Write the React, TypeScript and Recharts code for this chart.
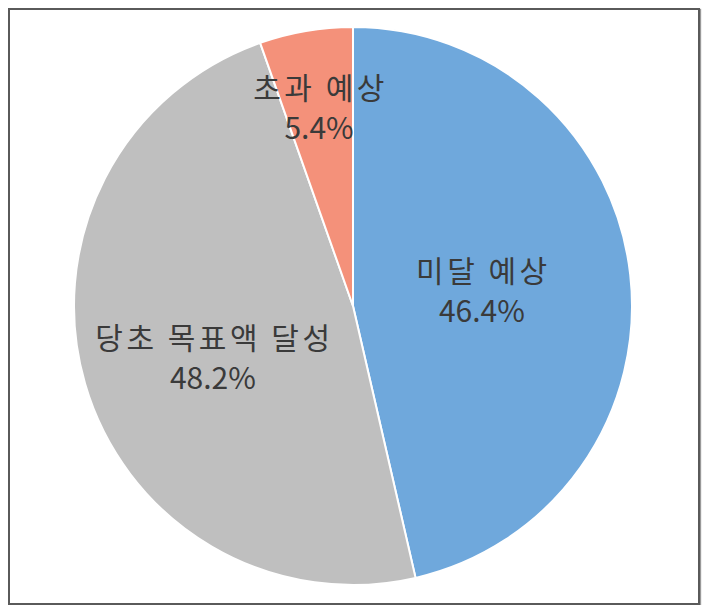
import { Cell, Pie, PieChart } from "recharts";

const categories = ["미달 예상", "당초 목표액 달성", "초과 예상"];
const shares = [46.4, 48.2, 5.4];
const colors = ["#6FA8DC", "#BFBFBF", "#F4917A"];

const data = categories.map((name, i) => ({ name, value: shares[i] }));

// label placement: fraction of radius and a small angle nudge (degrees)
const labelRadius = [0.465, 0.535, 0.72];
const labelNudge = [0, 4, 0];

const RAD = Math.PI / 180;

function renderLabel(props: any) {
  const { cx, cy, midAngle, outerRadius, index, name, value } = props;
  const r = outerRadius * labelRadius[index];
  const a = midAngle + labelNudge[index];
  const x = cx + r * Math.cos(-a * RAD);
  const y = cy + r * Math.sin(-a * RAD);
  return (
    <text
      x={x}
      y={y}
      textAnchor="middle"
      fill="#3a3a3a"
      fontSize={30}
      fontFamily="'Noto Sans CJK KR', 'Noto Sans', sans-serif"
    >
      <tspan x={x + 1.5} dy={-9} letterSpacing={3.5}>
        {name}
      </tspan>
      <tspan x={x} dy={40}>
        {value.toFixed(1)}%
      </tspan>
    </text>
  );
}

export default function App() {
  return (
    <div
      style={{
        width: 688,
        height: 593,
        border: "2px solid #5a5a5a",
        boxShadow: "1px 1px 1px #999",
        background: "#fff",
      }}
    >
      <PieChart width={688} height={593}>
        <Pie
          data={data}
          dataKey="value"
          nameKey="name"
          cx={338}
          cy={291}
          outerRadius={279}
          startAngle={90}
          endAngle={-270}
          stroke="#ffffff"
          strokeWidth={2}
          label={renderLabel}
          labelLine={false}
          isAnimationActive={false}
        >
          {data.map((d, i) => (
            <Cell key={d.name} fill={colors[i]} />
          ))}
        </Pie>
      </PieChart>
    </div>
  );
}
